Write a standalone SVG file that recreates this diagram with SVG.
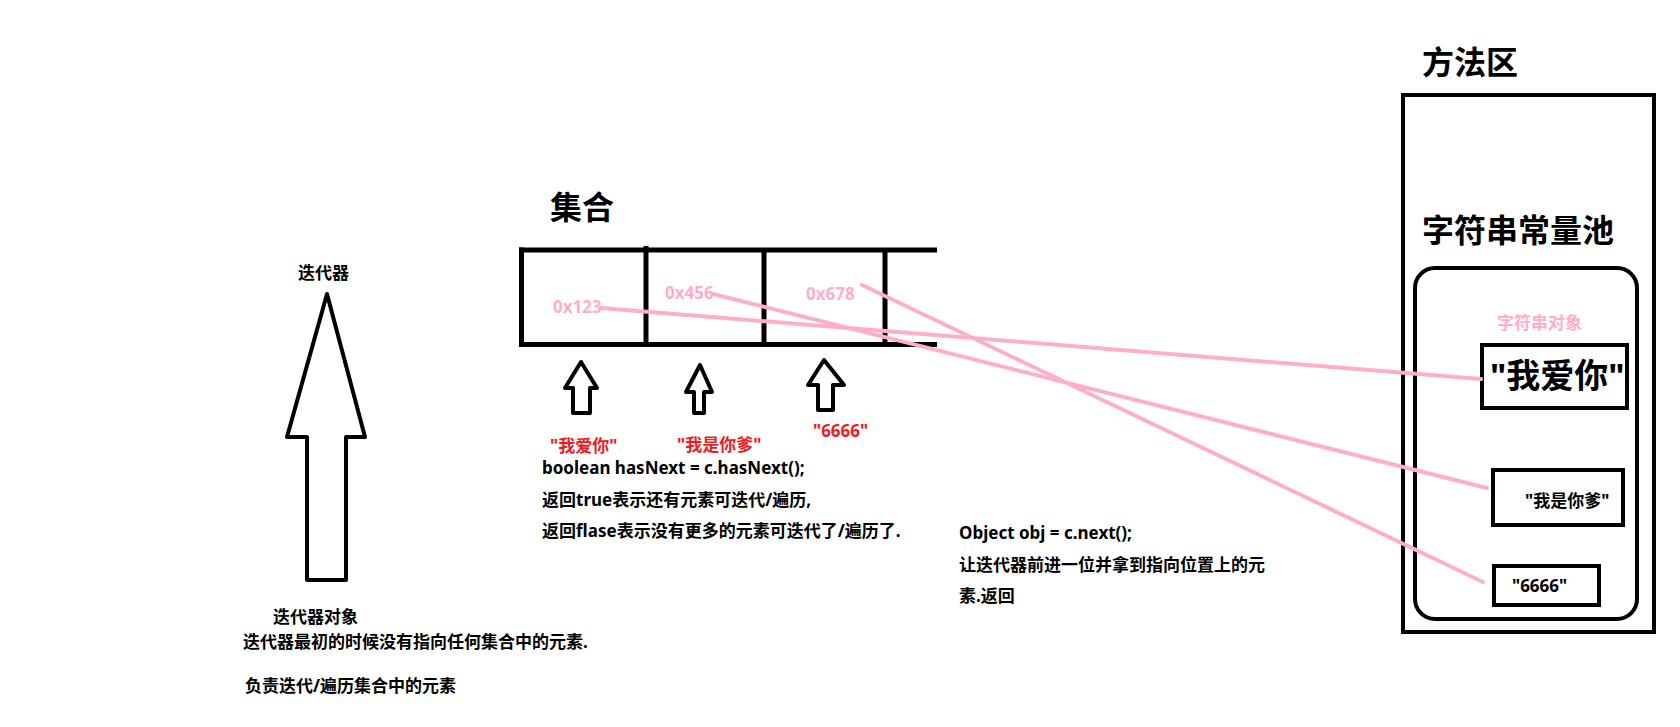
<svg xmlns="http://www.w3.org/2000/svg" width="1680" height="727" viewBox="0 0 1680 727">
<style>
text{font-family:"Noto Sans","Noto Sans CJK SC",sans-serif;font-weight:bold;}
.t{font-size:17px;fill:#000;}
.big{font-size:32px;fill:#000;}
.red{font-size:17px;fill:#ED1C24;}
.pink{font-size:17px;fill:#FFAEC9;}
.pinkt{font-size:17px;fill:#FFAEC9;}
.box{fill:none;stroke:#000;stroke-width:4;}
.arr{fill:#fff;stroke:#000;stroke-width:4;stroke-linejoin:round;}
.con{stroke:#FFAEC9;stroke-width:4;stroke-linecap:round;fill:none;}
</style>
<rect width="1680" height="727" fill="#fff"/>
<g id="iterator">
<text class="t" x="298" y="279">迭代器</text>
<polygon class="arr" points="327,294 365,437 346,437 346,580 307,580 307,437 287,437"/>
<text class="t" x="273" y="623">迭代器对象</text>
<text class="t" x="243" y="648">迭代器最初的时候没有指向任何集合中的元素.</text>
<text class="t" x="245" y="692">负责迭代/遍历集合中的元素</text>
</g>
<g id="collection">
<text class="big" x="550" y="219">集合</text>
<g stroke="#000" stroke-width="5" fill="none">
<line x1="519" y1="250" x2="937" y2="250"/>
<line x1="519" y1="344.5" x2="937" y2="344.5"/>
<line x1="521.5" y1="247.5" x2="521.5" y2="347"/>
<line x1="646" y1="246" x2="646" y2="347"/>
<line x1="764" y1="250" x2="764" y2="344"/>
<line x1="885" y1="250" x2="885" y2="342"/>
</g>
<text class="pink" x="553" y="313">0x123</text>
<text class="pink" x="665" y="299">0x456</text>
<text class="pink" x="806" y="300">0x678</text>
</g>
<g id="pointer1">
<polygon class="arr" points="581,362 597,388 590,388 590,413 573,413 573,388 565,388"/>
<text class="red" x="550" y="452">"我爱你"</text>
</g>
<g id="pointer2">
<polygon class="arr" points="700,365 712,392 704,392 704,413 694,413 694,392 686,392"/>
<text class="red" x="677" y="451">"我是你爹"</text>
</g>
<g id="pointer3">
<polygon class="arr" points="824,360 844,385 833,385 833,410 818,410 818,385 808,385"/>
<text class="red" x="813" y="437">"6666"</text>
</g>
<g id="hasNext-note">
<text class="t" x="542" y="474">boolean hasNext = c.hasNext();</text>
<text class="t" x="542" y="506">返回true表示还有元素可迭代/遍历,</text>
<text class="t" x="542" y="537">返回flase表示没有更多的元素可迭代了/遍历了.</text>
</g>
<g id="next-note">
<text class="t" x="959" y="539">Object obj = c.next();</text>
<text class="t" x="959" y="571">让迭代器前进一位并拿到指向位置上的元</text>
<text class="t" x="959" y="602">素.返回</text>
</g>
<g id="method-area">
<text class="big" x="1422" y="74">方法区</text>
<rect class="box" x="1403" y="95" width="251" height="537"/>
<text class="big" x="1422" y="242">字符串常量池</text>
</g>
<g id="string-pool">
<rect class="box" x="1415" y="268" width="222" height="351" rx="20"/>
<text class="pinkt" x="1497" y="329">字符串对象</text>
</g>
<g id="str1">
<rect class="box" x="1482" y="345" width="145" height="63"/>
<text x="1490" y="388" font-size="34" fill="#000">"我爱你"</text>
</g>
<g id="str2">
<rect class="box" x="1493" y="470" width="130" height="55"/>
<text class="t" x="1525" y="507">"我是你爹"</text>
</g>
<g id="str3">
<rect class="box" x="1494" y="566" width="105" height="39"/>
<text class="t" x="1512" y="592">"6666"</text>
</g>
<g id="connectors">
<line class="con" x1="601" y1="308" x2="1481" y2="379"/>
<line class="con" x1="713" y1="294" x2="1487" y2="488"/>
<line class="con" x1="862" y1="285" x2="1483" y2="582"/>
</g>
</svg>
